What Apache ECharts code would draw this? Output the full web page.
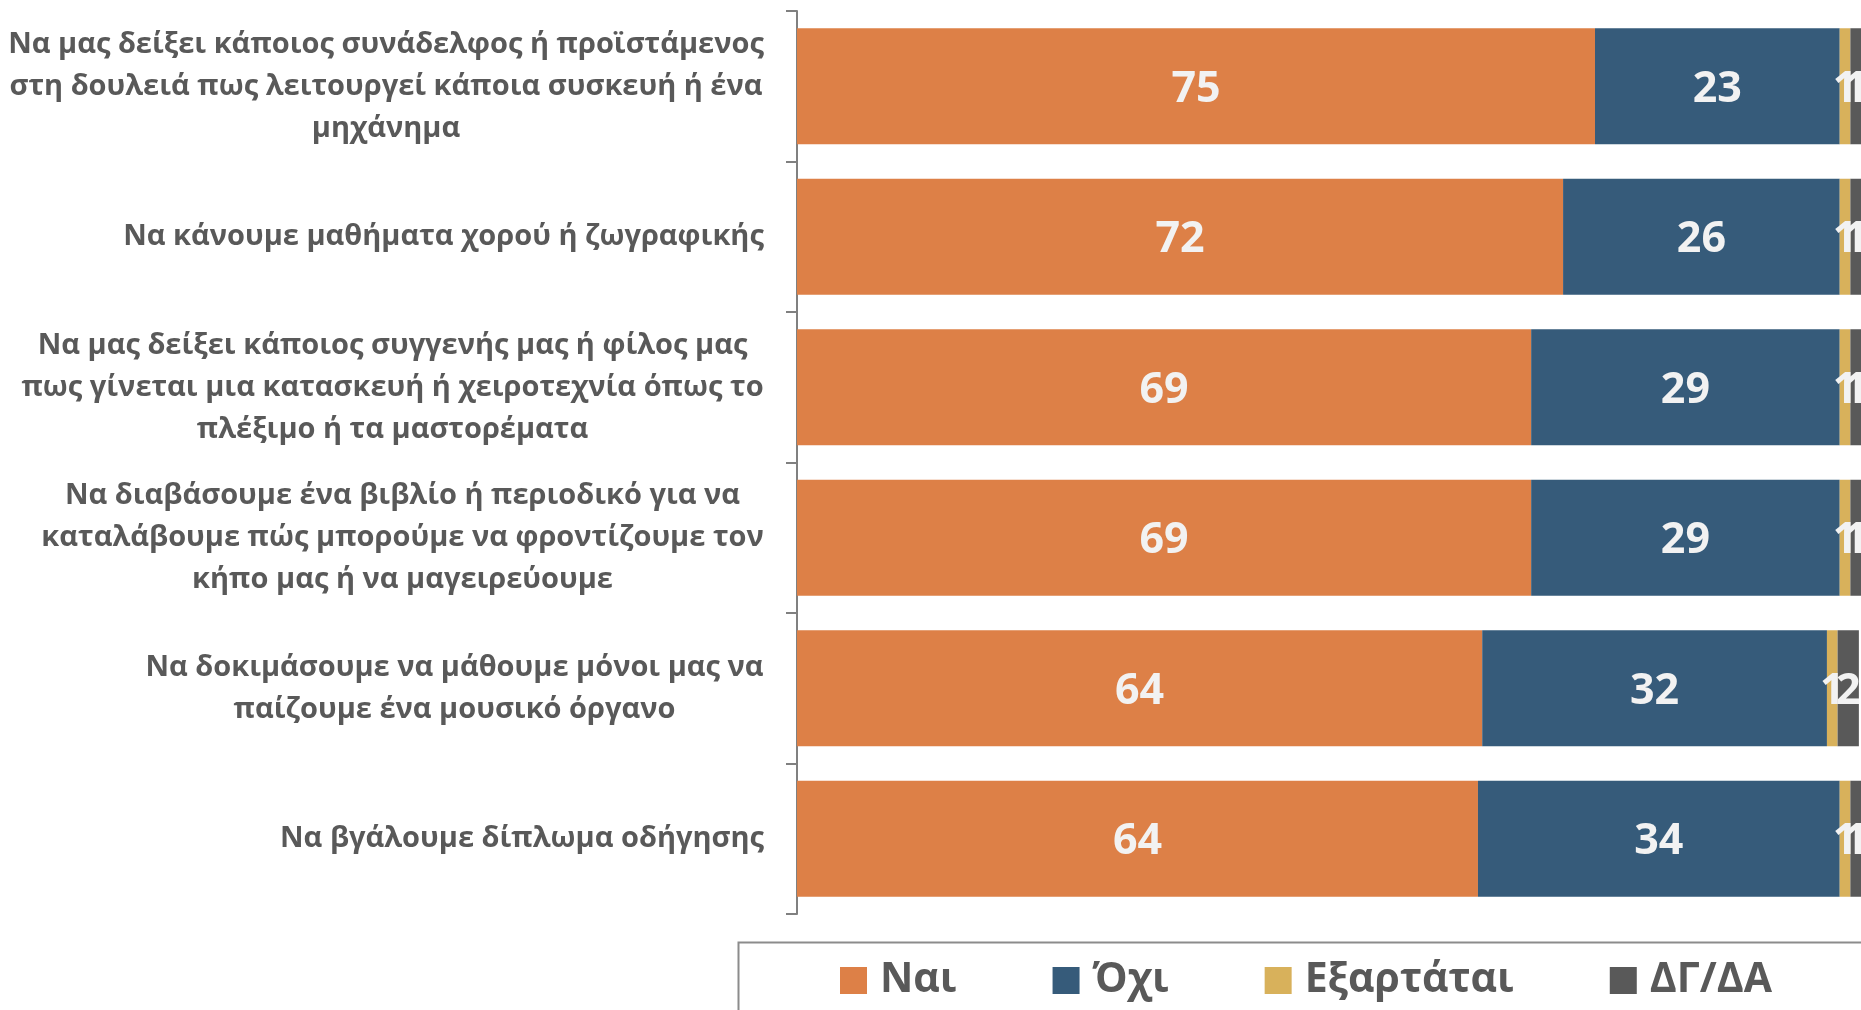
<!DOCTYPE html>
<html>
<head>
    <meta charset="utf-8"/>
    <title>Μάθηση</title>
    <style>
        html, body { margin: 0; padding: 0; background: #fff; }
        #chart { width: 1861px; height: 1010px; }
    </style>
</head>
<body>
<div id="chart"></div>
<script src="https://cdn.jsdelivr.net/npm/echarts@6/dist/echarts.min.js"></script>
<script>
    // κατηγορίες (κάθε στοιχείο = γραμμές της ετικέτας)
    var categories = [
        ['Να μας δείξει κάποιος συνάδελφος ή προϊστάμενος', 'στη δουλειά πως λειτουργεί κάποια συσκευή ή ένα', 'μηχάνημα'],
        ['Να κάνουμε μαθήματα χορού ή ζωγραφικής'],
        ['Να μας δείξει κάποιος συγγενής μας ή φίλος μας', 'πως γίνεται μια κατασκευή ή χειροτεχνία όπως το', 'πλέξιμο ή τα μαστορέματα'],
        ['Να διαβάσουμε ένα βιβλίο ή περιοδικό για να', 'καταλάβουμε πώς μπορούμε να φροντίζουμε τον', 'κήπο μας ή να μαγειρεύουμε'],
        ['Να δοκιμάσουμε να μάθουμε μόνοι μας να', 'παίζουμε ένα μουσικό όργανο'],
        ['Να βγάλουμε δίπλωμα οδήγησης']
    ];
    var seriesNames = ['Ναι', 'Όχι', 'Εξαρτάται', 'ΔΓ/ΔΑ'];
    var nai = [75, 72, 69, 69, 64.4, 64];
    var oxi = [23, 26, 29, 29, 32.4, 34];
    var eksartatai = [1, 1, 1, 1, 1, 1];
    var dgda = [1, 1, 1, 1, 2, 1];
    var colors = ['#DD8047', '#365B7A', '#D8B15B', '#595959'];

    var catFont = '"Open Sans", "Noto Sans", sans-serif';
    var catSize = 29;

    // πλάτος κάθε ετικέτας ώστε οι γραμμές να στοιχίζονται στο κέντρο
    var ctx = document.createElement('canvas').getContext('2d');
    ctx.font = 'bold ' + catSize + 'px ' + catFont;
    var rich = {};
    var catKeys = categories.map(function (lines, i) {
        var w = 0;
        lines.forEach(function (l) { w = Math.max(w, ctx.measureText(l).width); });
        rich['c' + i] = {
            width: Math.ceil(w),
            align: 'center',
            fontSize: catSize,
            fontWeight: 'bold',
            fontFamily: catFont,
            color: '#595959',
            lineHeight: 42
        };
        return 'k' + i;
    });

    var values = [nai, oxi, eksartatai, dgda];

    var myChart = echarts.init(document.getElementById('chart'));
    var option = {
        animation: false,
        color: colors,
        grid: {left: 797, right: 0, top: 11, bottom: 96},
        // πλαίσιο υπομνήματος (βγαίνει έξω από την εικόνα όπως στο πρωτότυπο)
        graphic: [{
            type: 'rect',
            left: 736,
            top: 940,
            shape: {width: 1200, height: 120},
            style: {fill: 'none', stroke: '#8c8c8c', lineWidth: 2}
        }],
        legend: {
            data: seriesNames,
            left: 840,
            top: 960,
            icon: 'rect',
            itemWidth: 27,
            itemHeight: 27,
            itemGap: 96,
            padding: 0,
            textStyle: {
                fontSize: 41,
                fontWeight: 'bold',
                fontFamily: '"Liberation Sans Narrow", "Open Sans", sans-serif',
                color: '#595959',
                padding: [0, 0, 0, 8]
            }
        },
        xAxis: {
            type: 'value',
            min: 0,
            max: 100,
            show: false
        },
        yAxis: {
            type: 'category',
            inverse: true,
            data: catKeys,
            axisLine: {lineStyle: {color: '#808080', width: 2}},
            axisTick: {show: true, length: 11, lineStyle: {color: '#808080', width: 2}},
            axisLabel: {
                margin: 33,
                rich: rich,
                formatter: function (val) {
                    var i = +val.slice(1);
                    return categories[i].map(function (l) {
                        return '{c' + i + '|' + l + '}';
                    }).join('\n');
                }
            }
        },
        series: seriesNames.map(function (name, s) {
            return {
                name: name,
                type: 'bar',
                stack: 'total',
                barCategoryGap: '23%',
                data: values[s],
                label: {
                    show: true,
                    position: 'inside',
                    color: '#F2F2F2',
                    fontSize: 43,
                    fontWeight: 'bold',
                    fontFamily: '"Open Sans", sans-serif',
                    offset: [0, 3],
                    formatter: function (p) { return Math.round(p.value); }
                }
            };
        })
    };
    myChart.setOption(option);
    window.onresize = function () {
        myChart.resize();
    };
</script>
</body>
</html>
